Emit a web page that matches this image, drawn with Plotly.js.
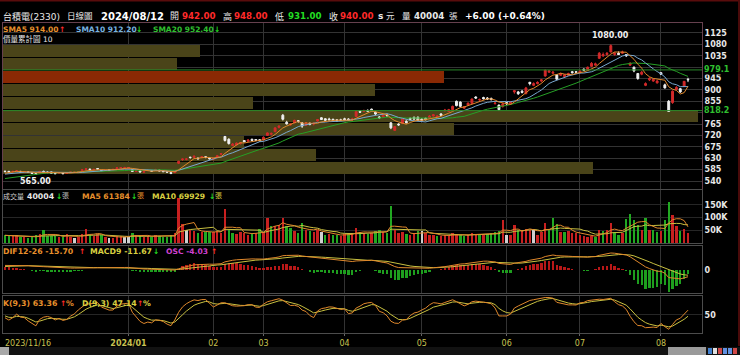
<!DOCTYPE html>
<html>
<head>
<meta charset="utf-8">
<script src="https://cdn.plot.ly/plotly-3.0.1.min.js"></script>
<style>
html,body{margin:0;padding:0;background:#000;overflow:hidden;}
#chart{width:740px;height:355px;}
</style>
</head>
<body>
<div id="chart"></div>
<script>
// ================= DATA =================
const tradeMonths = ['2023/11','2023/12','2024/01','2024/02','2024/03','2024/04','2024/05','2024/06','2024/07','2024/08'];
const tradeDays = [
  [16,17,20,21,22,23,24,27,28,29,30],
  [1,4,5,6,7,8,11,12,13,14,15,18,19,20,21,22,25,26,27,28,29],
  [2,3,4,5,8,9,10,11,12,15,16,17,18,19,22,23,24,25,26,29,30,31],
  [1,2,5,15,16,19,20,21,22,23,26,27,29],
  [1,4,5,6,7,8,11,12,13,14,15,18,19,20,21,22,25,26,27,28,29],
  [1,2,3,8,9,10,11,12,15,16,17,18,19,22,23,24,25,26,29,30],
  [2,3,6,7,8,9,10,13,14,15,16,17,20,21,22,23,24,27,28,29,30,31],
  [3,4,5,6,7,11,12,13,14,17,18,19,20,21,24,25,26,27,28],
  [1,2,3,4,5,8,9,10,11,12,15,16,17,18,19,22,23,26,29,30,31],
  [1,2,5,6,7,8,9,12]
];

const open = [
578,578,577,580,578,576,576,573,569,572,578,
575,576,570,572,571,570,575,576,575,582,586,587,585,589,582,583,584,584,589,593,593,
590,584,578,580,575,582,580,585,583,580,578,573,573,610,625,626,634,634,630,634,636,630,
626,633,646,716,705,680,683,688,700,697,705,704,703,
703,720,725,735,752,800,772,762,770,778,770,760,768,765,777,790,786,785,784,782,782,
786,785,782,795,815,815,819,824,812,793,792,800,770,740,765,768,776,788,792,792,
785,788,790,797,792,805,818,815,822,855,852,828,840,846,872,860,870,868,866,846,840,835,
850,845,892,892,895,885,930,918,925,935,955,970,966,960,958,953,958,972,972,
968,982,978,993,998,1025,1035,1040,1050,1040,1045,1045,1040,998,990,965,962,918,940,935,928,
968,920,855,850,902,905,915,942];

const high = [
582,580,580,583,580,579,578,575,572,580,581,
578,577,573,576,573,574,578,578,579,586,590,589,588,590,584,586,586,588,593,595,596,
593,585,582,582,580,585,582,588,584,581,579,574,583,620,628,630,636,640,633,638,638,632,
632,643,650,718,709,690,692,694,702,705,707,706,706,
715,732,732,752,760,805,778,768,782,780,772,772,772,770,785,792,788,790,786,784,786,
790,788,790,818,820,822,823,826,815,797,803,806,772,757,768,788,780,790,794,795,
788,790,800,805,800,808,825,825,838,858,855,836,850,866,875,866,873,872,870,852,842,848,
852,855,898,896,900,912,932,930,934,943,980,978,975,962,968,962,968,975,974,
978,985,992,1010,1008,1050,1048,1050,1080,1050,1052,1055,1042,1010,992,967,975,930,950,945,940,
970,925,860,898,915,908,935,948];

const low = [
575,574,573,577,574,573,572,568,565,570,573,
571,570,567,570,567,568,573,574,574,580,584,583,582,585,579,581,581,583,588,590,592,
589,576,575,574,573,579,576,582,578,575,573,567,572,607,620,622,628,630,625,630,630,625,
622,630,642,696,684,678,680,684,693,695,698,698,697,
700,718,720,733,748,779,763,758,768,770,750,758,760,760,775,781,778,780,776,775,777,
780,778,775,793,810,812,814,816,800,785,790,795,745,738,758,765,768,780,780,778,
777,780,788,795,790,798,815,813,820,835,831,825,838,844,865,855,862,860,858,842,818,830,
840,843,885,880,886,883,918,915,922,930,952,968,962,940,955,950,955,965,966,
965,975,976,990,996,1022,1030,1035,1048,1035,1038,1042,1030,995,970,940,958,915,935,932,925,
960,905,815,845,898,888,912,931];

const close = [
577,576,578,580,576,577,574,570,567,578,575,
574,571,569,573,569,572,576,576,577,584,588,585,586,587,581,583,583,586,592,593,593,
593,578,580,576,577,582,579,585,580,577,575,570,581,618,627,627,633,638,628,636,633,628,
630,640,648,700,688,686,690,692,695,702,700,701,699,
713,730,728,750,757,784,766,765,780,776,757,770,764,768,783,783,780,782,779,778,779,
782,780,785,815,812,818,816,818,805,790,800,798,750,755,762,785,770,784,785,780,
780,782,797,802,797,800,820,822,835,838,835,833,848,864,868,862,865,864,862,848,822,845,
845,852,897,885,890,908,925,925,930,940,978,975,970,942,965,960,965,968,970,
975,978,990,1005,1003,1045,1040,1045,1075,1045,1040,1050,1035,1005,975,945,970,925,945,942,935,
962,908,815,895,910,892,934,940];

const volume = [
30120,28340,26150,31080,24870,22460,20310,24650,30210,33870,52340,
27150,26480,28320,24170,22690,37210,25340,21480,24390,37120,55280,30410,26170,37360,30220,22150,20480,19360,26210,28340,25170,
24320,40150,30240,26380,24170,28260,25190,30420,26310,24180,25370,30160,38240,177320,75180,50260,52310,48120,40270,44180,42350,45160,
44280,46150,40320,134260,50180,40230,35170,42260,38140,33290,36180,40250,55170,
45260,98140,67320,66180,70240,97310,67150,58240,48170,40320,79150,50260,46180,44230,52170,42280,33140,35260,31180,30270,28140,
34260,36180,40150,57320,45180,38260,34170,40230,48150,52280,44170,38260,146320,50180,38240,42150,35270,30180,38260,48170,
46180,40250,32170,30260,28140,26380,32170,30240,38160,34280,30170,28240,30160,40280,36170,35240,32160,34270,38150,45260,46180,90240,
32160,30280,71240,50170,48260,55180,52240,56170,30260,45180,79240,50160,98270,76180,45240,42160,48270,40180,38260,
30170,26240,24180,28260,25170,52280,48160,50240,78170,45260,30180,40240,95170,114280,90160,70240,50170,98260,50180,50240,45160,
48170,90260,163240,110180,66270,46180,55160,40004];

// closes of the trading days before 2023/11/16 (warm-up for the moving averages / MACD)
const priorClose = [523,527,530,537,548,545,540,547,545,543,535,530,531,535,524,527,530,529,535,548,556,567,562,565,568,562,566,569,580];

// 價量累計圖 (10 price bins, bottom -> top), accumulated volume in 張
const profileVol = [1284000,682000,525000,981000,1513000,545000,809000,961000,379000,429000];
const profileBins = 10;
const levelLines = [979.1, 818.2];

const priceTicks = [540,585,630,675,720,765,810,855,900,945,990,1035,1080,1125];
const priceTickText = ['540','585','630','675','720','765','','855','900','945','','1035','1080','1125'];
const volTicks = [50000,100000,150000];
const volTickText = ['50K','100K','150K'];
const xTickMonths = ['2024/01','2024/02','2024/03','2024/04','2024/05','2024/06','2024/07','2024/08'];
const xTickText = ['<b>2024/01</b>','02','03','04','05','06','07','08'];
const firstDateLabel = '2023/11/16';

// ================= DERIVED =================
const N = close.length;
const xi = close.map((_, i) => i);
const dates = [];
tradeMonths.forEach((m, k) => tradeDays[k].forEach(d => dates.push(m + '/' + String(d).padStart(2, '0'))));
const tickvals = xTickMonths.map(m => dates.findIndex(d => d.startsWith(m)));

const P = priorClose.length;
const allClose = priorClose.concat(close);
function sma(n) { return xi.map(i => { let s = 0; for (let k = P + i - n + 1; k <= P + i; k++) s += allClose[k]; return s / n; }); }
const sma5 = sma(5), sma10 = sma(10), sma20 = sma(20);
function vma(n) { return xi.map(i => { const a = Math.max(0, i - n + 1); let s = 0; for (let k = a; k <= i; k++) s += volume[k]; return s / (i - a + 1); }); }
const vma5 = vma(5), vma10 = vma(10);
function ema(arr, n) { const a = 2 / (n + 1); const out = [arr[0]]; for (let i = 1; i < arr.length; i++) out.push(out[i - 1] + a * (arr[i] - out[i - 1])); return out; }
const e12 = ema(allClose, 12), e26 = ema(allClose, 26);
const difAll = e12.map((v, i) => v - e26[i]);
const deaAll = ema(difAll, 9);
const dif = difAll.slice(P), dea = deaAll.slice(P);
const osc = dif.map((v, i) => v - dea[i]);
const kLine = [], dLine = [];
{
  let K = 50, D = 50;
  for (let i = 0; i < N; i++) {
    const a = Math.max(0, i - 8); let hi = -Infinity, lo = Infinity;
    for (let k = a; k <= i; k++) { hi = Math.max(hi, high[k]); lo = Math.min(lo, low[k]); }
    const rsv = hi > lo ? (close[i] - lo) / (hi - lo) * 100 : 50;
    K = K * 2 / 3 + rsv / 3; D = D * 2 / 3 + K / 3;
    kLine.push(K); dLine.push(D);
  }
}
const prevClose = [priorClose[P - 1]].concat(close.slice(0, -1));
const volColor = close.map((c, i) => c > prevClose[i] ? '#c82020' : (c < prevClose[i] ? '#22a822' : '#d0d0d0'));
const oscColor = osc.map(v => v >= 0 ? '#b81818' : '#1e9e1e');

const pLow = Math.min(...low), pHigh = Math.max(...high);
const binSize = (pHigh - pLow) / profileBins;
const binMid = profileVol.map((_, b) => pLow + binSize * (b + 0.5));
const lastBin = Math.min(profileBins - 1, Math.floor((close[N - 1] - pLow) / binSize));
const binColor = profileVol.map((_, b) => b === lastBin ? '#8a2904' : '#4a4419');
const maxProfile = Math.max(...profileVol);
const iMax = high.indexOf(pHigh), iMin = low.indexOf(pLow);

const maxL = Math.max(...dif.map(Math.abs), ...dea.map(Math.abs));
const aL = maxL * 24 / 17;
const maxH = Math.max(...osc.map(Math.abs));
const aH = maxH * 24 / 22;

// ================= LAYOUT HELPERS =================
const PX0 = 3, PW = 699, PY0 = 23, PH = 310;
const px = x => (x - PX0) / PW;
const py = y => (PY0 + PH - y) / PH;
const FONT = 'DejaVu Sans, Noto Sans CJK TC, sans-serif';
function lab(text, x, y, color, size, bold) {
  return { xref: 'paper', yref: 'paper', x: px(x), y: py(y), xanchor: 'left', yanchor: 'middle',
    text: text, showarrow: false, borderpad: 0, borderwidth: 0,
    font: { family: FONT, size: size, color: color, weight: bold ? 'bold' : 'normal' } };
}
const RED = '#ff2a2a', GRN = '#22dd22', WHT = '#e8e8e8';
const ORG = '#e8902c', BLU = '#78b4e0', SGR = '#30c030', YEL = '#d8d040', MAG = '#d040d0';

const annotations = [
  lab('台積電(2330)', 3, 16, WHT, 9, false),
  lab('日線圖', 67, 16, WHT, 8.5, false),
  lab('2024/08/12', 101, 16, '#ffffff', 10, true),
  lab('開', 170, 16, WHT, 9, false),
  lab('942.00', 182, 16, RED, 8.7, true),
  lab('高', 223, 16, WHT, 9, false),
  lab('948.00', 234, 16, RED, 8.7, true),
  lab('低', 275, 16, WHT, 9, false),
  lab('931.00', 288, 16, GRN, 8.7, true),
  lab('收', 329, 16, WHT, 9, false),
  lab('940.00', 340, 16, RED, 8.7, true),
  lab('s', 378, 16, WHT, 9, true),
  lab('元', 386, 16, WHT, 8.5, false),
  lab('量', 402, 16, WHT, 8.5, false),
  lab('40004', 414, 16, WHT, 8.7, true),
  lab('張', 449, 16, WHT, 8.5, false),
  lab('+6.00 (+0.64%)', 465, 16, '#ffffff', 9, true),

  lab('SMA5 914.00', 3, 29, ORG, 7.5, true),
  lab('↑', 59, 29, RED, 7.5, true),
  lab('SMA10 912.20', 76, 29, BLU, 7.5, true),
  lab('↓', 136, 29, GRN, 7.5, true),
  lab('SMA20 952.40', 153, 29, SGR, 7.5, true),
  lab('↓', 214, 29, GRN, 7.5, true),
  lab('價量累計圖 10', 3, 39, WHT, 7.5, false),

  lab('成交量', 3, 196, '#d0d0d0', 7, false),
  lab('40004', 27, 196, WHT, 7.8, true),
  lab('↓', 56, 196, GRN, 7.5, true),
  lab('張', 62, 196, '#bbbbbb', 7, false),
  lab('MA5 61384', 82, 196, ORG, 7.6, true),
  lab('↓', 131, 196, GRN, 7.5, true),
  lab('張', 137, 196, ORG, 7, false),
  lab('MA10 69929', 152, 196, YEL, 7.6, true),
  lab('↓', 209, 196, GRN, 7.5, true),
  lab('張', 215, 196, YEL, 7, false),

  lab('DIF12-26 -15.70', 3, 251, ORG, 7.8, true),
  lab('↑', 79, 251, RED, 7.5, true),
  lab('MACD9 -11.67', 90, 251, YEL, 7.8, true),
  lab('↓', 153, 251, GRN, 7.5, true),
  lab('OSC -4.03', 166, 251, MAG, 7.6, true),
  lab('↑', 211, 251, RED, 7.5, true),

  lab('K(9,3) 63.36', 3, 303, ORG, 7.8, true),
  lab('↑', 60, 303, RED, 7.5, true),
  lab('%', 66, 303, ORG, 7.8, true),
  lab('D(9,3) 47.14', 82, 303, YEL, 7.8, true),
  lab('↑', 137, 303, RED, 7.5, true),
  lab('%', 143, 303, YEL, 7.8, true),

  { xref: 'x2', yref: 'y', x: iMax, y: pHigh, text: pHigh.toFixed(2), showarrow: false, yanchor: 'bottom', yshift: 2,
    font: { family: FONT, size: 8, color: '#f0f0f0', weight: 'bold' } },
  { xref: 'x2', yref: 'y', x: iMin, y: pLow, text: pLow.toFixed(2), showarrow: false, yanchor: 'top', yshift: 0,
    font: { family: FONT, size: 8, color: '#f0f0f0', weight: 'bold' } },
  { xref: 'paper', yref: 'paper', x: px(3), y: py(343), xanchor: 'left', yanchor: 'middle', text: firstDateLabel, showarrow: false,
    font: { family: FONT, size: 8, color: '#c8c050' } }
];
levelLines.forEach(v => annotations.push({ xref: 'paper', yref: 'y', x: 1, y: v, xanchor: 'left', yanchor: 'middle',
  xshift: 1, text: v.toFixed(1), showarrow: false, bgcolor: '#000', borderpad: 0,
  font: { family: FONT, size: 8, color: '#30c030', weight: 'bold' } }));

const shapes = [];
levelLines.forEach(v => shapes.push({ type: 'line', xref: 'paper', yref: 'y', x0: 0, x1: 1, y0: v, y1: v,
  line: { color: '#2a8a2a', width: 1 } }));
// outer frame and bottom scroll strip
shapes.push({ type: 'line', xref: 'paper', yref: 'paper', x0: px(0), x1: px(740), y0: py(0.5), y1: py(0.5), line: { color: '#5a0c0c', width: 2 } });
shapes.push({ type: 'line', xref: 'paper', yref: 'paper', x0: px(739), x1: px(739), y0: py(0), y1: py(346), line: { color: '#4a0a0a', width: 2 } });
shapes.push({ type: 'rect', xref: 'paper', yref: 'paper', x0: px(0), x1: px(740), y0: py(355), y1: py(347), fillcolor: '#121212', line: { width: 0 } });
shapes.push({ type: 'rect', xref: 'paper', yref: 'paper', x0: px(0), x1: px(9), y0: py(355), y1: py(347), fillcolor: '#a8a8a8', line: { width: 0 } });
shapes.push({ type: 'rect', xref: 'paper', yref: 'paper', x0: px(668), x1: px(706), y0: py(355), y1: py(347), fillcolor: '#9a9a9a', line: { width: 0 } });
['#4080d0', '#e0e0e0', '#d04848', '#6090e0', '#6090e0', '#d04848'].forEach((c, k) => shapes.push({
  type: 'rect', xref: 'paper', yref: 'paper', x0: px(708 + k * 5), x1: px(712 + k * 5), y0: py(354), y1: py(348), fillcolor: c, line: { width: 0 } }));

// ================= TRACES =================
const traces = [
  { type: 'bar', orientation: 'h', x: profileVol, y: binMid, width: binSize * 0.93, xaxis: 'x', yaxis: 'y',
    marker: { color: binColor, line: { width: 0 } }, hoverinfo: 'skip' },
  { type: 'candlestick', x: xi, open: open, high: high, low: low, close: close, xaxis: 'x2', yaxis: 'y',
    increasing: { line: { color: '#d42a2a', width: 1 }, fillcolor: '#d42a2a' },
    decreasing: { line: { color: '#f0f0f0', width: 1 }, fillcolor: '#f0f0f0' }, whiskerwidth: 0, hoverinfo: 'skip' },
  { type: 'scatter', mode: 'lines', x: xi, y: sma20, xaxis: 'x2', yaxis: 'y', line: { color: '#26a026', width: 1 } },
  { type: 'scatter', mode: 'lines', x: xi, y: sma10, xaxis: 'x2', yaxis: 'y', line: { color: '#78a8d0', width: 1 } },
  { type: 'scatter', mode: 'lines', x: xi, y: sma5, xaxis: 'x2', yaxis: 'y', line: { color: '#e0882c', width: 1 } },

  { type: 'bar', x: xi, y: volume, xaxis: 'x3', yaxis: 'y3', width: 0.62, marker: { color: volColor, line: { width: 0 } } },
  { type: 'scatter', mode: 'lines', x: xi, y: vma10, xaxis: 'x3', yaxis: 'y3', line: { color: '#c8c040', width: 1 } },
  { type: 'scatter', mode: 'lines', x: xi, y: vma5, xaxis: 'x3', yaxis: 'y3', line: { color: '#e0882c', width: 1 } },

  { type: 'bar', x: xi, y: osc, xaxis: 'x4', yaxis: 'y4', width: 0.62, marker: { color: oscColor, line: { width: 0 } } },
  { type: 'scatter', mode: 'lines', x: xi, y: dea, xaxis: 'x4', yaxis: 'y6', line: { color: '#c8c040', width: 1 } },
  { type: 'scatter', mode: 'lines', x: xi, y: dif, xaxis: 'x4', yaxis: 'y6', line: { color: '#e0882c', width: 1 } },

  { type: 'scatter', mode: 'lines', x: xi, y: dLine, xaxis: 'x5', yaxis: 'y5', line: { color: '#c8c040', width: 1 } },
  { type: 'scatter', mode: 'lines', x: xi, y: kLine, xaxis: 'x5', yaxis: 'y5', line: { color: '#e0882c', width: 1 } }
];

const s = (688 - 5) / (N - 1);
const xRange = [-(5 - PX0) / s, (N - 1) + (PX0 + PW - 688) / s];
const GRID = '#333333', FRAME = '#66404e', PANEL = '#4c4c4c';
const tickFont = { family: FONT, size: 8, color: '#e8e8e8', weight: 'bold' };
const xPanel = (anchor) => ({ matches: 'x2', anchor: anchor, tickvals: tickvals, showgrid: true, gridcolor: GRID, gridwidth: 1,
  showticklabels: false, ticks: '', zeroline: false, showline: true, mirror: true, linecolor: PANEL, linewidth: 1, domain: [0, 1] });

const layout = {
  width: 740, height: 355,
  margin: { l: PX0, r: 740 - PX0 - PW, t: PY0, b: 355 - PY0 - PH, pad: 0 },
  paper_bgcolor: '#000', plot_bgcolor: '#000',
  showlegend: false, hovermode: false, dragmode: false,
  bargap: 0,
  xaxis: { domain: [0, 1], anchor: 'y', range: [0, maxProfile * PW / 695], showgrid: false, zeroline: false,
    showticklabels: false, ticks: '', showline: true, mirror: true, linecolor: FRAME, linewidth: 1 },
  xaxis2: { overlaying: 'x', anchor: 'y', range: xRange, tickvals: tickvals, showgrid: true, gridcolor: GRID, gridwidth: 1,
    showticklabels: false, ticks: '', zeroline: false, showline: false, rangeslider: { visible: false } },
  yaxis: { domain: [py(189), 1], anchor: 'x', side: 'right', range: [508.4, 1164.5], tickvals: priceTicks, ticktext: priceTickText,
    showgrid: true, gridcolor: GRID, zeroline: false, ticks: '', tickfont: tickFont,
    showline: true, mirror: true, linecolor: FRAME, linewidth: 1 },

  xaxis3: xPanel('y3'),
  yaxis3: { domain: [py(243), py(190)], anchor: 'x3', side: 'right', range: [0, 208700], tickvals: volTicks, ticktext: volTickText,
    showgrid: true, gridcolor: '#262626', zeroline: false, ticks: '', tickfont: tickFont,
    showline: true, mirror: true, linecolor: PANEL },

  xaxis4: xPanel('y4'),
  yaxis4: { domain: [py(293), py(246)], anchor: 'x4', side: 'right', range: [-aH * 23 / 24, aH], tickvals: [0], ticktext: ['0'],
    showgrid: false, zeroline: false, ticks: '', tickfont: tickFont, showline: true, mirror: true, linecolor: PANEL },
  yaxis6: { overlaying: 'y4', anchor: 'x4', side: 'right', range: [-aL * 23 / 24, aL], showticklabels: false,
    showgrid: false, zeroline: false, ticks: '' },

  xaxis5: Object.assign(xPanel('y5'), { ticktext: xTickText, showticklabels: true, ticks: 'outside', ticklen: 2, tickcolor: '#666',
    tickfont: { family: FONT, size: 8, color: '#c8c050' } }),
  yaxis5: { domain: [0, py(296)], anchor: 'x5', side: 'right', range: [3.8, 98.7], tickvals: [50],
    showgrid: true, gridcolor: '#262626', zeroline: false, ticks: '', tickfont: tickFont,
    showline: true, mirror: true, linecolor: PANEL },

  annotations: annotations,
  shapes: shapes
};

Plotly.newPlot('chart', traces, layout, { staticPlot: true, displayModeBar: false });
</script>
</body>
</html>
